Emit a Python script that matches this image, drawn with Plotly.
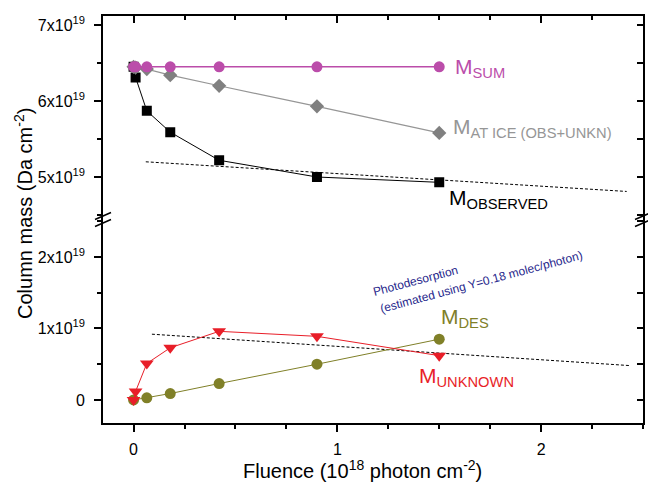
import plotly.graph_objects as go

# ---- data (units of 10^19 Da cm^-2, fluence in 10^18 photon cm^-2) ----
fluence = [0.0, 0.01, 0.065, 0.18, 0.42, 0.9, 1.5]
m_sum = [6.45, 6.45, 6.45, 6.45, 6.45, 6.45, 6.45]
m_at_ice = [6.45, 6.44, 6.42, 6.34, 6.20, 5.93, 5.58]
m_observed = [6.45, 6.31, 5.87, 5.59, 5.22, 5.00, 4.93]
fluence_low = [0.0, 0.01, 0.065, 0.18, 0.42, 0.9, 1.5]
m_unknown = [0.0, 0.12, 0.51, 0.73, 0.96, 0.89, 0.62]
fluence_des = [0.0, 0.065, 0.18, 0.42, 0.9, 1.5]
m_des = [0.0, 0.03, 0.09, 0.23, 0.50, 0.85]
trend_top_x = [0.06, 2.42]
trend_top_y = [5.20, 4.81]
trend_low_x = [0.09, 2.44]
trend_low_y = [0.92, 0.48]

top_tickvals = [5, 6, 7]
top_ticktext = ["5x10<sup>19</sup>", "6x10<sup>19</sup>", "7x10<sup>19</sup>"]
low_tickvals = [0, 1, 2]
low_ticktext = ["0", "1x10<sup>19</sup>", "2x10<sup>19</sup>"]
x_tickvals = [0, 1, 2]
x_ticktext = ["0", "1", "2"]

MAG = "rgb(187,77,170)"
GRAY = "rgb(128,128,128)"
GRAYL = "rgb(150,150,150)"
RED = "rgb(232,30,40)"
OLIVE = "rgb(128,128,40)"
NAVY = "rgb(40,40,140)"
FONT = "Arial, Liberation Sans, sans-serif"

fig = go.Figure()

# dashed trend lines
fig.add_trace(go.Scatter(x=trend_top_x, y=trend_top_y, mode="lines", xaxis="x", yaxis="y",
                         line=dict(color="black", width=1, dash="3px,2px"), showlegend=False))
fig.add_trace(go.Scatter(x=trend_low_x, y=trend_low_y, mode="lines", xaxis="x", yaxis="y2",
                         line=dict(color="black", width=1, dash="3px,2px"), showlegend=False))

# top segment
fig.add_trace(go.Scatter(x=fluence, y=m_observed, mode="lines+markers", xaxis="x", yaxis="y",
                         line=dict(color="black", width=1),
                         marker=dict(symbol="square", size=10, color="black"), showlegend=False))
fig.add_trace(go.Scatter(x=fluence, y=m_at_ice, mode="lines+markers", xaxis="x", yaxis="y",
                         line=dict(color=GRAYL, width=1.2),
                         marker=dict(symbol="diamond", size=11, color=GRAY), showlegend=False))
fig.add_trace(go.Scatter(x=fluence, y=m_sum, mode="lines+markers", xaxis="x", yaxis="y",
                         line=dict(color=MAG, width=1.5),
                         marker=dict(symbol="circle", size=11, color=MAG), showlegend=False))

# bottom segment
fig.add_trace(go.Scatter(x=fluence_des, y=m_des, mode="lines+markers", xaxis="x", yaxis="y2",
                         line=dict(color=OLIVE, width=1),
                         marker=dict(symbol="circle", size=11, color=OLIVE), showlegend=False))
fig.add_trace(go.Scatter(x=fluence_low, y=m_unknown, mode="lines+markers", xaxis="x", yaxis="y2",
                         line=dict(color=RED, width=1),
                         marker=dict(symbol="triangle-down", size=12, color=RED), showlegend=False))

# invisible traces to activate mirror axes
fig.add_trace(go.Scatter(x=[None], y=[None], xaxis="x2", yaxis="y3", showlegend=False, hoverinfo="skip"))
fig.add_trace(go.Scatter(x=[None], y=[None], xaxis="x", yaxis="y4", showlegend=False, hoverinfo="skip"))

XR = [-0.15, 2.5]
YT = [4.441, 7.118]
YB = [-0.322, 2.524]
tickfont = dict(family=FONT, size=16, color="black")

common_axis = dict(showgrid=False, zeroline=False, showline=True, linecolor="black",
                   linewidth=1.6, tickcolor="black", tickwidth=1.5)

fig.update_layout(
    width=648, height=488,
    margin=dict(l=103, r=5, t=16, b=65),
    paper_bgcolor="white", plot_bgcolor="white",
    font=dict(family=FONT, color="black"),
    xaxis=dict(domain=[0, 1], range=XR, anchor="y2", side="bottom",
               tickvals=x_tickvals, ticktext=x_ticktext, ticks="outside", ticklen=7,
               ticklabelstandoff=4,
               minor=dict(dtick=0.25, tick0=0, ticks="outside", ticklen=4, tickcolor="black", tickwidth=1.5),
               tickfont=tickfont, **common_axis),
    xaxis2=dict(range=XR, overlaying="x", anchor="y", side="top",
                tickvals=x_tickvals, ticks="inside", ticklen=7, showticklabels=False,
                minor=dict(dtick=0.25, tick0=0, ticks="inside", ticklen=4, tickcolor="black", tickwidth=1.5),
                **common_axis),
    yaxis=dict(domain=[0.5, 1], range=YT, anchor="x",
               tickvals=top_tickvals, ticktext=top_ticktext, ticks="outside", ticklen=7,
               ticklabelstandoff=6,
               minor=dict(dtick=0.5, tick0=0, ticks="outside", ticklen=4, tickcolor="black", tickwidth=1.5),
               tickfont=tickfont, **common_axis),
    yaxis2=dict(domain=[0, 0.5], range=YB, anchor="x",
                tickvals=low_tickvals, ticktext=low_ticktext, ticks="outside", ticklen=7,
                ticklabelstandoff=6,
                minor=dict(dtick=0.5, tick0=0, ticks="outside", ticklen=4, tickcolor="black", tickwidth=1.5),
                tickfont=tickfont, **common_axis),
    yaxis3=dict(range=YT, overlaying="y", side="right", anchor="x",
                tickvals=top_tickvals, ticks="inside", ticklen=6, showticklabels=False,
                minor=dict(dtick=0.5, tick0=0, ticks="inside", ticklen=6, tickcolor="black", tickwidth=1.5),
                **common_axis),
    yaxis4=dict(range=YB, overlaying="y2", side="right", anchor="x",
                tickvals=low_tickvals, ticks="inside", ticklen=6, showticklabels=False,
                minor=dict(dtick=0.5, tick0=0, ticks="inside", ticklen=6, tickcolor="black", tickwidth=1.5),
                **common_axis),
)

# axis break slashes (pixel offsets converted to paper units)
PW, PH = 540.0, 407.0
for xp in (0.0, 1.0):
    for dy in (-3.5, 3.5):
        fig.add_shape(type="line", xref="paper", yref="paper",
                      x0=xp - 8 / PW, y0=0.5 + (dy - 3.5) / PH,
                      x1=xp + 8 / PW, y1=0.5 + (dy + 3.5) / PH,
                      line=dict(color="black", width=1.5))

def lab(text, x, y, yref, color, size=21):
    fig.add_annotation(text=text, x=x, y=y, xref="x", yref=yref, xanchor="left", yanchor="middle",
                       showarrow=False, font=dict(family=FONT, size=size, color=color))

lab("M<sub>SUM</sub>", 1.57, 6.43, "y", MAG)
lab("M<sub>AT ICE (OBS+UNKN)</sub>", 1.56, 5.65, "y", GRAYL)
lab("M<sub>OBSERVED</sub>", 1.54, 4.71, "y", "black")
lab("M<sub>DES</sub>", 1.50, 1.15, "y2", OLIVE)
lab("M<sub>UNKNOWN</sub>", 1.39, 0.32, "y2", RED)

fig.add_annotation(text="Photodesorption", x=1.383, y=1.657, xref="x", yref="y2",
                   showarrow=False, textangle=-15, font=dict(family=FONT, size=12, color=NAVY))
fig.add_annotation(text="(estimated using Y=0.18 molec/photon)", x=1.707, y=1.643, xref="x", yref="y2",
                   showarrow=False, textangle=-15, font=dict(family=FONT, size=12, color=NAVY))

# axis titles
fig.add_annotation(text="Column mass (Da cm<sup>-2</sup>)", xref="paper", yref="paper",
                   x=-80 / PW, y=(423 - 214) / PH, xanchor="center", yanchor="middle",
                   textangle=-90, showarrow=False, font=dict(family=FONT, size=20, color="black"))
fig.add_annotation(text="Fluence (10<sup>18</sup> photon cm<sup>-2</sup>)", xref="paper", yref="paper",
                   x=(362 - 103) / PW, y=-(469 - 423) / PH, xanchor="center", yanchor="middle",
                   showarrow=False, font=dict(family=FONT, size=20, color="black"))

fig.write_html("out.html")
